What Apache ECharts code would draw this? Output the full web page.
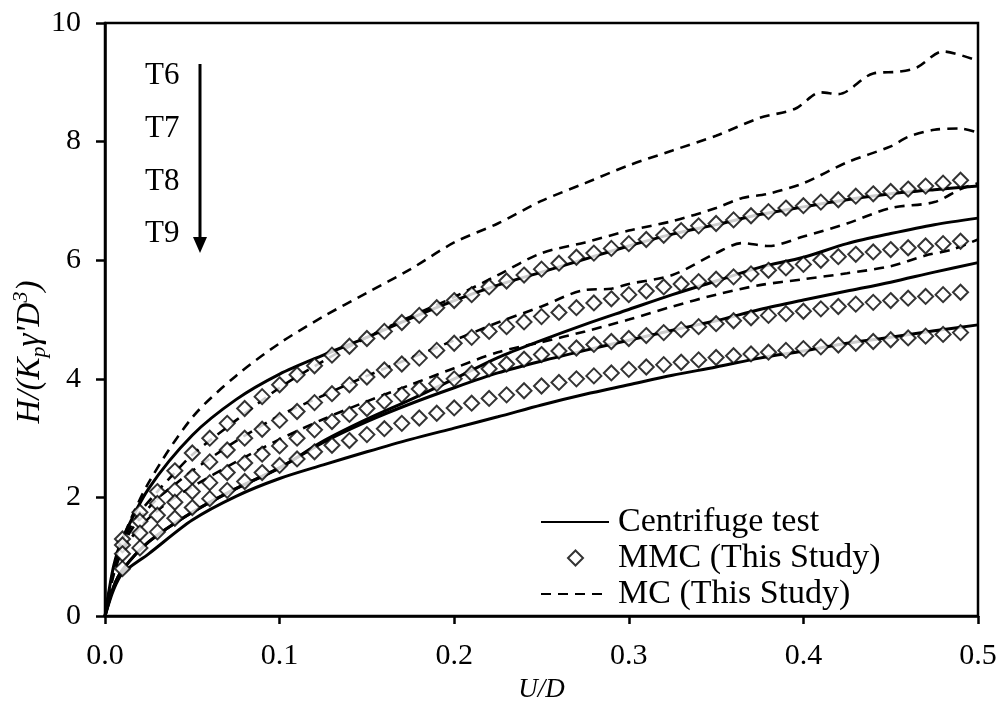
<!DOCTYPE html>
<html><head><meta charset="utf-8">
<script src="https://cdn.jsdelivr.net/npm/echarts@6/dist/echarts.min.js"></script>
<style>html,body{margin:0;padding:0;background:#fff}#c{width:1000px;height:708px}</style>
</head><body><div id="c"></div>
<script>
const FONT = '"Liberation Serif","Times New Roman",serif';

// Centrifuge test (solid)
const cenU  = [0,0.005,0.01,0.025,0.05,0.075,0.1,0.125,0.15,0.175,0.2,0.225,0.25,0.275,0.3,0.325,0.35,0.375,0.4,0.425,0.45,0.475,0.5];
const cenT6 = [0,0.85,1.3,2.15,3.05,3.65,4.08,4.4,4.7,5.02,5.32,5.58,5.8,6.02,6.24,6.44,6.6,6.77,6.9,7.02,7.12,7.19,7.25];
const cenT7 = [0,0.5,0.78,1.25,1.75,2.15,2.5,2.95,3.32,3.65,4.0,4.36,4.65,4.92,5.17,5.42,5.65,5.88,6.05,6.28,6.45,6.6,6.71];
const cenT8 = [0,0.5,0.78,1.25,1.75,2.15,2.5,2.93,3.28,3.58,3.85,4.1,4.3,4.48,4.65,4.82,4.98,5.17,5.33,5.48,5.63,5.8,5.96];
const cenT9 = [0,0.45,0.72,1.05,1.62,2.02,2.32,2.55,2.77,2.98,3.17,3.36,3.56,3.74,3.9,4.06,4.2,4.35,4.47,4.6,4.7,4.81,4.91];

// MMC (This Study) (diamonds)
const mmcU  = [0.01,0.02,0.03,0.04,0.05,0.06,0.07,0.08,0.09,0.10,0.11,0.12,0.13,0.14,0.15,0.16,0.17,0.18,0.19,0.20,0.21,0.22,0.23,0.24,0.25,0.26,0.27,0.28,0.29,0.30,0.31,0.32,0.33,0.34,0.35,0.36,0.37,0.38,0.39,0.40,0.41,0.42,0.43,0.44,0.45,0.46,0.47,0.48,0.49];
const mmcT6 = [1.3,1.75,2.1,2.45,2.75,3.0,3.25,3.5,3.7,3.9,4.07,4.22,4.4,4.55,4.68,4.8,4.95,5.07,5.2,5.32,5.42,5.55,5.65,5.75,5.85,5.95,6.05,6.12,6.2,6.28,6.35,6.42,6.5,6.58,6.62,6.68,6.75,6.82,6.88,6.92,6.98,7.02,7.08,7.12,7.16,7.2,7.25,7.3,7.35];
const mmcT7 = [1.2,1.6,1.9,2.12,2.35,2.6,2.8,3.0,3.15,3.3,3.45,3.6,3.75,3.9,4.03,4.15,4.25,4.35,4.48,4.6,4.7,4.8,4.88,4.96,5.05,5.12,5.2,5.28,5.35,5.42,5.48,5.55,5.6,5.64,5.68,5.72,5.77,5.83,5.87,5.93,6.0,6.06,6.1,6.14,6.18,6.21,6.24,6.28,6.32];
const mmcT8 = [1.05,1.4,1.7,1.92,2.1,2.25,2.42,2.58,2.73,2.87,3.0,3.14,3.28,3.4,3.5,3.62,3.73,3.83,3.92,4.0,4.09,4.17,4.25,4.33,4.41,4.47,4.52,4.58,4.63,4.68,4.73,4.78,4.83,4.88,4.93,4.98,5.03,5.07,5.1,5.14,5.18,5.22,5.26,5.29,5.32,5.36,5.39,5.42,5.46];
const mmcT9 = [0.8,1.15,1.42,1.65,1.83,1.98,2.12,2.27,2.42,2.54,2.65,2.77,2.88,2.96,3.06,3.16,3.25,3.34,3.42,3.51,3.59,3.67,3.73,3.8,3.88,3.94,4.0,4.05,4.1,4.16,4.2,4.24,4.28,4.32,4.36,4.39,4.42,4.45,4.48,4.51,4.54,4.57,4.6,4.63,4.66,4.69,4.72,4.75,4.78];

// MC (This Study) (dashed)
const mcT6U = [0,0.005,0.01,0.025,0.05,0.075,0.1,0.125,0.15,0.175,0.2,0.225,0.25,0.275,0.3,0.325,0.35,0.375,0.395,0.41,0.42,0.44,0.455,0.465,0.48,0.5];
const mcT6  = [0,0.8,1.3,2.25,3.35,4.05,4.6,5.05,5.45,5.85,6.3,6.62,7.0,7.3,7.6,7.85,8.1,8.4,8.55,8.83,8.8,9.15,9.18,9.25,9.52,9.36];
const mcT7U = [0,0.005,0.01,0.02,0.03,0.04,0.05,0.075,0.1,0.125,0.15,0.175,0.2,0.225,0.25,0.275,0.3,0.325,0.35,0.365,0.38,0.4,0.425,0.45,0.46,0.475,0.49,0.5];
const mcT7  = [0,0.8,1.25,1.75,2.1,2.42,2.72,3.3,3.85,4.3,4.7,5.05,5.38,5.75,6.12,6.3,6.5,6.66,6.88,7.05,7.12,7.3,7.65,7.92,8.08,8.2,8.22,8.15];
const mcT8U = [0,0.005,0.01,0.02,0.03,0.04,0.05,0.075,0.1,0.125,0.15,0.175,0.2,0.225,0.25,0.275,0.29,0.3,0.325,0.35,0.365,0.38,0.4,0.425,0.45,0.475,0.49,0.5];
const mcT8  = [0,0.75,1.2,1.65,1.98,2.22,2.45,2.95,3.38,3.72,4.05,4.35,4.65,4.95,5.22,5.5,5.52,5.6,5.75,6.12,6.29,6.24,6.4,6.62,6.88,6.98,7.2,7.3];
const mcT9U = [0,0.005,0.01,0.02,0.03,0.04,0.05,0.075,0.1,0.125,0.15,0.175,0.2,0.225,0.25,0.275,0.3,0.325,0.35,0.375,0.4,0.425,0.45,0.47,0.485,0.5];
const mcT9  = [0,0.7,1.1,1.5,1.78,2.0,2.18,2.6,2.98,3.32,3.62,3.9,4.18,4.45,4.62,4.8,5.0,5.22,5.42,5.58,5.68,5.78,5.9,6.08,6.18,6.35];

const testLabels = ['T6','T7','T8','T9'];
const legendNames = ['Centrifuge test','MMC (This Study)','MC (This Study)'];

const pairs = (u, h) => u.map((x, i) => [x, h[i]]);

const series = [];
[cenT6, cenT7, cenT8, cenT9].forEach(h => series.push({
  name: legendNames[0], type: 'line', data: pairs(cenU, h), showSymbol: false, symbol: 'none',
  smooth: 0.3, z: 2, lineStyle: {color: '#000', width: 3, type: 'solid'},
  itemStyle: {color: '#000'}
}));
[[mcT6U, mcT6], [mcT7U, mcT7], [mcT8U, mcT8], [mcT9U, mcT9]].forEach(([u, h]) => series.push({
  name: legendNames[2], type: 'line', data: pairs(u, h), showSymbol: false, symbol: 'none',
  smooth: 0.3, z: 3, lineStyle: {color: '#000', width: 2.6, type: [10, 7]},
  itemStyle: {color: '#000'}
}));
[mmcT6, mmcT7, mmcT8, mmcT9].forEach(h => series.push({
  name: legendNames[1], type: 'scatter', data: pairs(mmcU, h), symbol: 'diamond', symbolSize: 15, z: 4,
  itemStyle: {color: '#fff', borderColor: '#000', borderWidth: 2}
}));

const legendBase = {
  orient: 'vertical', padding: 0, selectedMode: false, itemHeight: 15,
  textStyle: {fontFamily: FONT, fontSize: 34, color: '#000'}
};

const chart = echarts.init(document.getElementById('c'), null, {renderer: 'canvas'});
chart.setOption({
  animation: false,
  backgroundColor: '#fff',
  grid: {left: 105, right: 22, top: 23, bottom: 86, show: true, borderColor: '#000', borderWidth: 2.5, backgroundColor: 'transparent'},
  xAxis: {
    type: 'value', min: 0, max: 0.5, interval: 0.1,
    name: 'U/D', nameLocation: 'middle', nameGap: 52,
    nameTextStyle: {fontFamily: FONT, fontSize: 27, fontStyle: 'italic', color: '#000'},
    axisLine: {lineStyle: {color: '#000', width: 2.5}},
    axisTick: {show: true, inside: false, length: 8, lineStyle: {color: '#000', width: 2.5}},
    axisLabel: {fontFamily: FONT, fontSize: 30, color: '#000', margin: 25, formatter: v => v.toFixed(1)},
    splitLine: {show: false}
  },
  yAxis: {
    type: 'value', min: 0, max: 10, interval: 2,
    axisLine: {lineStyle: {color: '#000', width: 2.5}},
    axisTick: {show: true, inside: false, length: 9, lineStyle: {color: '#000', width: 2.5}},
    axisLabel: {fontFamily: FONT, fontSize: 30, color: '#000', margin: 24},
    splitLine: {show: false}
  },
  legend: [
    Object.assign({}, legendBase, {
      data: [{name: legendNames[0], itemStyle: {opacity: 0}}], left: 540, top: 505, itemWidth: 68,
      textStyle: Object.assign({}, legendBase.textStyle, {padding: [0, 0, 0, 4]})
    }),
    Object.assign({}, legendBase, {
      data: [{name: legendNames[1], icon: 'diamond'}], left: 567, top: 541, itemWidth: 15,
      textStyle: Object.assign({}, legendBase.textStyle, {padding: [0, 0, 0, 30]})
    }),
    Object.assign({}, legendBase, {
      data: [{name: legendNames[2], itemStyle: {opacity: 0}}], left: 540, top: 577, itemWidth: 68,
      textStyle: Object.assign({}, legendBase.textStyle, {padding: [0, 0, 0, 4]})
    })
  ],
  graphic: [
    {type: 'text', left: 145, top: 60, style: {text: testLabels[0], font: '31px ' + FONT, fill: '#000'}},
    {type: 'text', left: 145, top: 113, style: {text: testLabels[1], font: '31px ' + FONT, fill: '#000'}},
    {type: 'text', left: 145, top: 166, style: {text: testLabels[2], font: '31px ' + FONT, fill: '#000'}},
    {type: 'text', left: 145, top: 218, style: {text: testLabels[3], font: '31px ' + FONT, fill: '#000'}},
    {type: 'line', shape: {x1: 200, y1: 64, x2: 200, y2: 240}, style: {stroke: '#000', lineWidth: 3}},
    {type: 'polygon', shape: {points: [[193, 237], [207, 237], [200, 253]]}, style: {fill: '#000'}},
    {
      type: 'text', x: 30, y: 352, rotation: Math.PI / 2,
      style: {
        text: '{t|H/(K}{sub|p}{t|γ\'D}{sup|3}{t|)}', align: 'center', verticalAlign: 'middle',
        rich: {
          t: {fontFamily: FONT, fontSize: 33, fontStyle: 'italic', fill: '#000', lineHeight: 40},
          sub: {fontFamily: FONT, fontSize: 22, fontStyle: 'italic', fill: '#000', lineHeight: 22, verticalAlign: 'bottom'},
          sup: {fontFamily: FONT, fontSize: 22, fontStyle: 'italic', fill: '#000', lineHeight: 22, verticalAlign: 'top'}
        }
      }
    }
  ],
  series: series
});
</script></body></html>
